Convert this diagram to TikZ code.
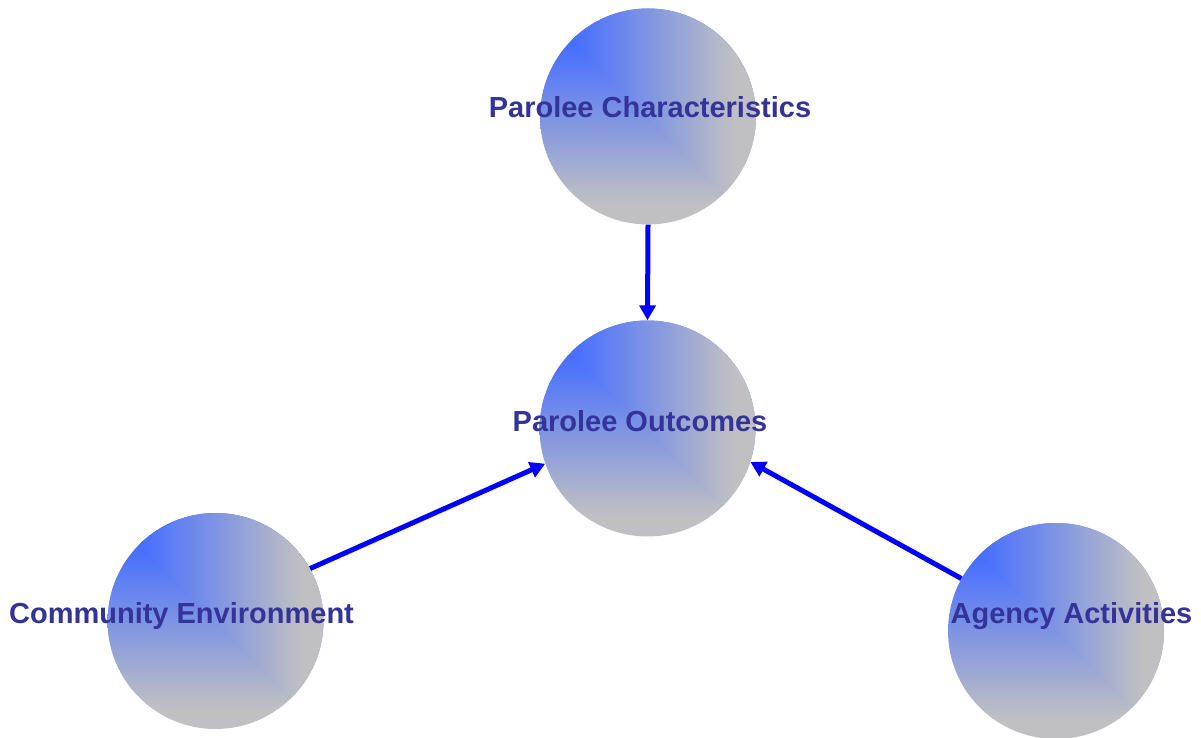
\documentclass[tikz,border=0pt]{standalone}
\usepackage{fontspec}
\setmainfont{Liberation Sans}
\usetikzlibrary{arrows.meta}
\definecolor{cblue}{RGB}{70,110,255}
\definecolor{cgrey}{RGB}{192,192,194}
\definecolor{ctext}{RGB}{51,51,153}
\definecolor{carrow}{RGB}{0,0,255}
\newcommand\gradball[2]{% cx, cy (cy measured downward)
  \begin{scope}
    \clip (#1,-#2) circle[radius=108];
    \fill[cblue] (#1-130,-#2+130) rectangle (#1+130,-#2+73);
    \shade[top color=cblue,bottom color=cgrey] (#1-130,-#2+73) rectangle (#1+130,-#2-87);
    \fill[cgrey] (#1-130,-#2-87) rectangle (#1+130,-#2-130);
    \begin{scope}
      \clip (#1-375,-#2+373) -- (#1+225,-#2-227) -- (#1+225,-#2+373) -- cycle;
      \fill[cblue] (#1-130,-#2-130) rectangle (#1-75,-#2+130);
      \shade[left color=cblue,right color=cgrey] (#1-75,-#2-130) rectangle (#1+85,-#2+130);
      \fill[cgrey] (#1+85,-#2-130) rectangle (#1+130,-#2+130);
    \end{scope}
  \end{scope}}
\tikzset{
  ball/.style={circle,minimum size=216pt,inner sep=0pt},
  lbl/.style={anchor=base,text=ctext,font=\bfseries\fontsize{29}{34}\selectfont,inner sep=0pt},
  link/.style={draw=carrow,line width=5pt,-{Triangle[length=15pt,width=16pt]}}
}
\begin{document}
\begin{tikzpicture}[x=1pt,y=1pt]
\useasboundingbox (0,-738) rectangle (1201,0);
\gradball{648}{116.5}
\gradball{647.5}{428.5}
\gradball{215.5}{621}
\gradball{1056}{631}
\node[ball] (tc) at (648,-116.5) {};
\node[ball] (cc) at (647.5,-428.5) {};
\node[ball] (lc) at (215.5,-621) {};
\node[ball] (rc) at (1056,-631) {};
\node[lbl] (tl) at (650,-118) {Parolee Characteristics};
\node[lbl] (cl) at (640,-431) {Parolee Outcomes};
\node[lbl] (ll) at (181.5,-623) {Community Environment};
\node[lbl] (rl) at (1071.5,-623) {Agency Activities};
\draw[link] (tc.south) -- (cc.north);
\draw[link] (lc.29) -- (cc.199);
\draw[link] (rc.151) -- (cc.342);
\end{tikzpicture}
\end{document}
